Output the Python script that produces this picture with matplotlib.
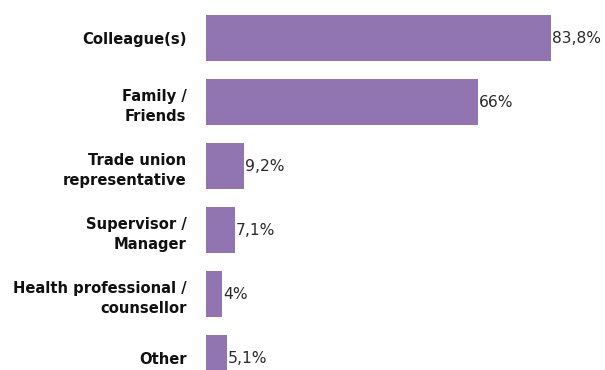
import numpy as np
import matplotlib.pyplot as plt

# share of respondents who talked to each group
categories = ['Colleague(s)', 'Family /\nFriends', 'Trade union\nrepresentative',
              'Supervisor /\nManager', 'Health professional /\ncounsellor', 'Other']
values = [83.8, 66, 9.2, 7.1, 4, 5.1]
value_labels = ['83,8%', '66%', '9,2%', '7,1%', '4%', '5,1%']

bar_color = '#9175b3'

fig = plt.figure(figsize=(6.05, 3.7), dpi=100)
ax = fig.add_axes([206 / 605, 0, 1 - 206 / 605, 1])

ypos = np.arange(len(categories))
ax.barh(ypos, values, height=0.72, color=bar_color)

ax.set_xlim(0, 96.9)
ax.set_ylim(5.1875, -0.594)

for y, v, lab in zip(ypos, values, value_labels):
    ax.text(v + 0.2, y, lab, va='center', ha='left', fontsize=11.2, color='#2a2a2a')

ax.set_yticks(ypos)
ax.set_yticklabels(categories, fontsize=10.6, fontweight='bold', color='#111111',
                   ha='right', multialignment='right', linespacing=1.45)
ax.tick_params(axis='y', length=0, pad=14)
ax.set_xticks([])
for s in ax.spines.values():
    s.set_visible(False)

fig.savefig('out.png', dpi=100)
